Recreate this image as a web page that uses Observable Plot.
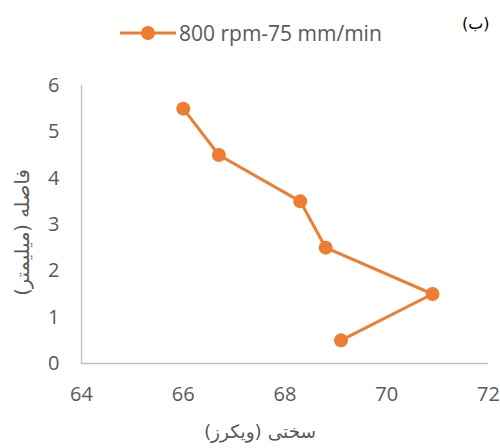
<!DOCTYPE html>
<html>
<head>
<meta charset="utf-8">
<script src="https://cdn.jsdelivr.net/npm/d3@7"></script>
<script src="https://cdn.jsdelivr.net/npm/@observablehq/plot@0.6"></script>
<style>
  html, body { margin: 0; padding: 0; background: #fff; }
  #wrap { position: relative; width: 500px; height: 448px; font-family: "Open Sans", "Noto Sans", sans-serif; }
  #legend { position: relative; height: 60px; }
  #legend svg { position: absolute; left: 118px; top: 23px; }
  #legend .lbl { position: absolute; left: 179px; top: 19px; font-size: 21px; color: #595959; line-height: 28px; white-space: nowrap; }
  #tag { position: absolute; left: 462px; top: 13px; font-size: 16px; line-height: 22px; color: #000; font-family: "DejaVu Sans", sans-serif; direction: ltr; white-space: nowrap; }
</style>
</head>
<body>
<div id="wrap">
  <div id="legend">
    <svg width="60" height="20"><line x1="2" x2="58" y1="10" y2="10" stroke="#ED7D31" stroke-width="3"/><circle cx="30" cy="10" r="7" fill="#ED7D31"/></svg>
    <span class="lbl" id="serName"></span>
    <div id="tag"></div>
  </div>
  <div id="chart"></div>
</div>
<script>
const seriesName = "800 rpm-75 mm/min";
const panelTag = "(ب)";
const xTitle = "سختی (ویکرز)";
const yTitle = "فاصله (میلیمتر)";
const hardness = [66.0, 66.7, 68.3, 68.8, 70.9, 69.1];
const distance = [5.5, 4.5, 3.5, 2.5, 1.5, 0.5];
const xTicks = [64, 66, 68, 70, 72];
const yTicks = [0, 1, 2, 3, 4, 5, 6];

document.getElementById("serName").textContent = seriesName;
document.getElementById("tag").textContent = panelTag;

const data = hardness.map((h, i) => ({h, d: distance[i]}));
const orange = "#ED7D31";
const gray = "#595959";

const chart = Plot.plot({
  width: 500,
  height: 388,
  marginTop: 25,
  marginBottom: 85,
  marginLeft: 81,
  marginRight: 12,
  style: {fontFamily: "'Open Sans', 'Noto Sans', sans-serif", background: "#fff"},
  x: {domain: [64, 72]},
  y: {domain: [0, 6]},
  marks: [
    Plot.ruleX([64], {stroke: "#BFBFBF", strokeWidth: 1.3}),
    Plot.ruleY([0], {stroke: "#BFBFBF", strokeWidth: 1.3}),
    Plot.axisX({ticks: xTicks, tickFormat: d3.format("d"), tickSize: 0, tickPadding: 23, fontSize: 20, fill: gray, label: null}),
    Plot.axisY({ticks: yTicks, tickFormat: d3.format("d"), tickSize: 0, tickPadding: 22, fontSize: 20, fill: gray, label: null}),
    Plot.line(data, {x: "h", y: "d", stroke: orange, strokeWidth: 3}),
    Plot.dot(data, {x: "h", y: "d", r: 7, fill: orange, stroke: "none"}),
    Plot.text([xTitle], {frameAnchor: "bottom", dx: -25, dy: 69, text: d => d, fontSize: 18.5, fill: gray, fontFamily: "'DejaVu Sans', sans-serif", lineAnchor: "middle", textAnchor: "middle"}),
    Plot.text([yTitle], {frameAnchor: "left", dx: -59, dy: 8, rotate: -90, text: d => d, fontSize: 19.5, fill: gray, fontFamily: "'DejaVu Sans', sans-serif", lineAnchor: "middle", textAnchor: "middle"})
  ]
});
document.getElementById("chart").appendChild(chart);
</script>
</body>
</html>
